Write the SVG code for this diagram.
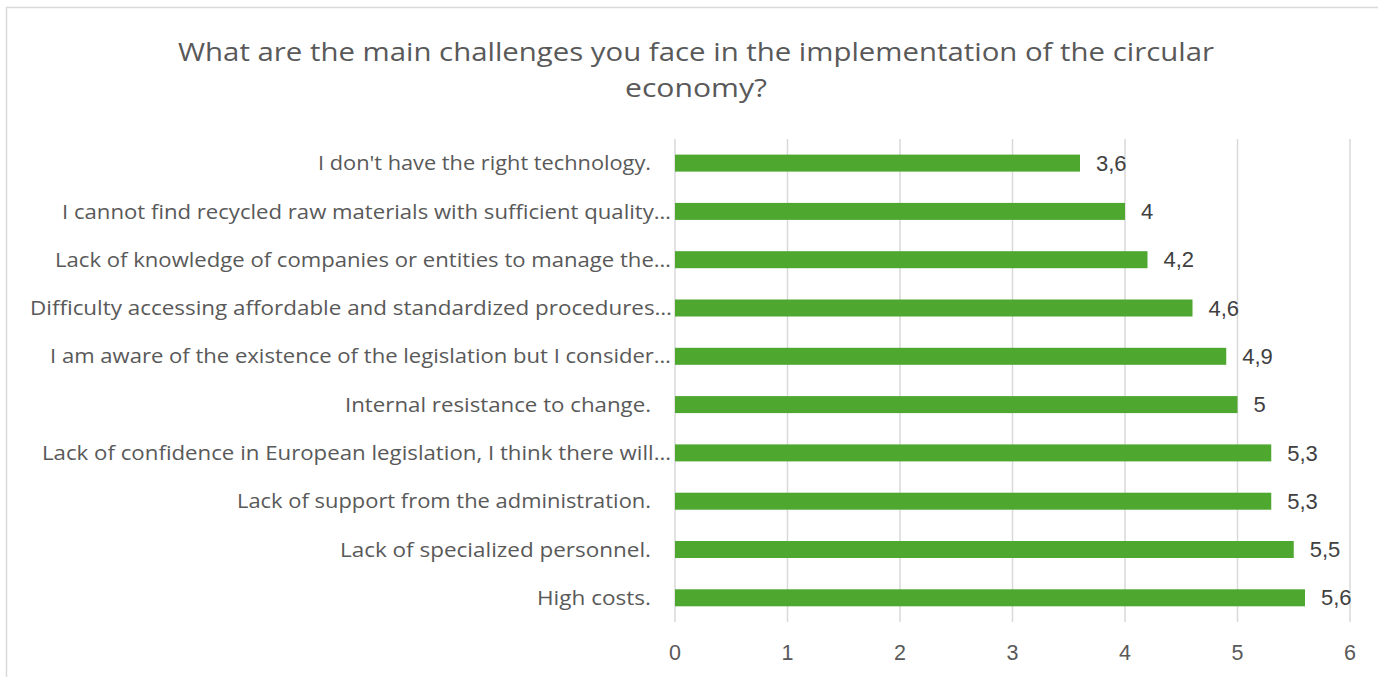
<svg xmlns="http://www.w3.org/2000/svg" width="1378" height="677" viewBox="0 0 1378 677">
<style>
.title{font-family:"Open Sans","Liberation Sans",sans-serif;font-size:26px;fill:#595959;text-anchor:middle}
.cat{font-family:"Open Sans","Liberation Sans",sans-serif;font-size:19.5px;fill:#595959;text-anchor:end}
.val{font-family:"Liberation Sans",Arial,sans-serif;font-size:22px;fill:#404040}
.tick{font-family:"Liberation Sans",Arial,sans-serif;font-size:21.5px;fill:#595959;text-anchor:middle}
.grid{stroke:#d9d9d9;stroke-width:1.5}
.bar{fill:#4ea72e}
</style>
<rect x="0" y="0" width="1378" height="677" fill="#ffffff"/>
<rect x="6.5" y="7.5" width="1400" height="700" fill="#ffffff" stroke="#d9d9d9" stroke-width="1.5"/>
<g id="title">
<text class="title" x="696" y="61" textLength="1036" lengthAdjust="spacingAndGlyphs">What are the main challenges you face in the implementation of the circular</text>
<text class="title" x="696" y="97" textLength="142" lengthAdjust="spacingAndGlyphs">economy?</text>
</g>
<g id="gridlines">
<line class="grid" x1="675" y1="139" x2="675" y2="622"/>
<line class="grid" x1="787.5" y1="139" x2="787.5" y2="622"/>
<line class="grid" x1="900" y1="139" x2="900" y2="622"/>
<line class="grid" x1="1012.5" y1="139" x2="1012.5" y2="622"/>
<line class="grid" x1="1125" y1="139" x2="1125" y2="622"/>
<line class="grid" x1="1237.5" y1="139" x2="1237.5" y2="622"/>
<line class="grid" x1="1350" y1="139" x2="1350" y2="622"/>
</g>
<g id="axis">
<text class="tick" x="675" y="660">0</text>
<text class="tick" x="787.5" y="660">1</text>
<text class="tick" x="900" y="660">2</text>
<text class="tick" x="1012.5" y="660">3</text>
<text class="tick" x="1125" y="660">4</text>
<text class="tick" x="1237.5" y="660">5</text>
<text class="tick" x="1350" y="660">6</text>
</g>
<g id="row1"><text class="cat" x="651" y="170" textLength="333" lengthAdjust="spacingAndGlyphs">I don't have the right technology.</text><rect class="bar" x="675" y="154.6" width="405" height="17"/><text class="val" x="1096" y="170.5">3,6</text></g>
<g id="row2"><text class="cat" x="671" y="218.5" textLength="609" lengthAdjust="spacingAndGlyphs">I cannot find recycled raw materials with sufficient quality…</text><rect class="bar" x="675" y="202.9" width="450" height="17"/><text class="val" x="1141" y="219">4</text></g>
<g id="row3"><text class="cat" x="671" y="266.8" textLength="616" lengthAdjust="spacingAndGlyphs">Lack of knowledge of companies or entities to manage the…</text><rect class="bar" x="675" y="251.2" width="472.5" height="17"/><text class="val" x="1163.5" y="267.3">4,2</text></g>
<g id="row4"><text class="cat" x="672" y="315" textLength="642" lengthAdjust="spacingAndGlyphs">Difficulty accessing affordable and standardized procedures…</text><rect class="bar" x="675" y="299.5" width="517.5" height="17"/><text class="val" x="1208.5" y="315.5">4,6</text></g>
<g id="row5"><text class="cat" x="671" y="363.4" textLength="621" lengthAdjust="spacingAndGlyphs">I am aware of the existence of the legislation but I consider…</text><rect class="bar" x="675" y="347.8" width="551.25" height="17"/><text class="val" x="1242.25" y="363.9">4,9</text></g>
<g id="row6"><text class="cat" x="651" y="411.7" textLength="306" lengthAdjust="spacingAndGlyphs">Internal resistance to change.</text><rect class="bar" x="675" y="396.1" width="562.5" height="17"/><text class="val" x="1253.5" y="412.2">5</text></g>
<g id="row7"><text class="cat" x="671" y="460" textLength="629" lengthAdjust="spacingAndGlyphs">Lack of confidence in European legislation, I think there will…</text><rect class="bar" x="675" y="444.4" width="596.25" height="17"/><text class="val" x="1287.25" y="460.5">5,3</text></g>
<g id="row8"><text class="cat" x="651" y="508.3" textLength="414" lengthAdjust="spacingAndGlyphs">Lack of support from the administration.</text><rect class="bar" x="675" y="492.7" width="596.25" height="17"/><text class="val" x="1287.25" y="508.8">5,3</text></g>
<g id="row9"><text class="cat" x="651" y="556.6" textLength="311" lengthAdjust="spacingAndGlyphs">Lack of specialized personnel.</text><rect class="bar" x="675" y="541" width="618.75" height="17"/><text class="val" x="1309.75" y="557.1">5,5</text></g>
<g id="row10"><text class="cat" x="651" y="604.9" textLength="114" lengthAdjust="spacingAndGlyphs">High costs.</text><rect class="bar" x="675" y="589.3" width="630" height="17"/><text class="val" x="1321" y="605.4">5,6</text></g>
</svg>
